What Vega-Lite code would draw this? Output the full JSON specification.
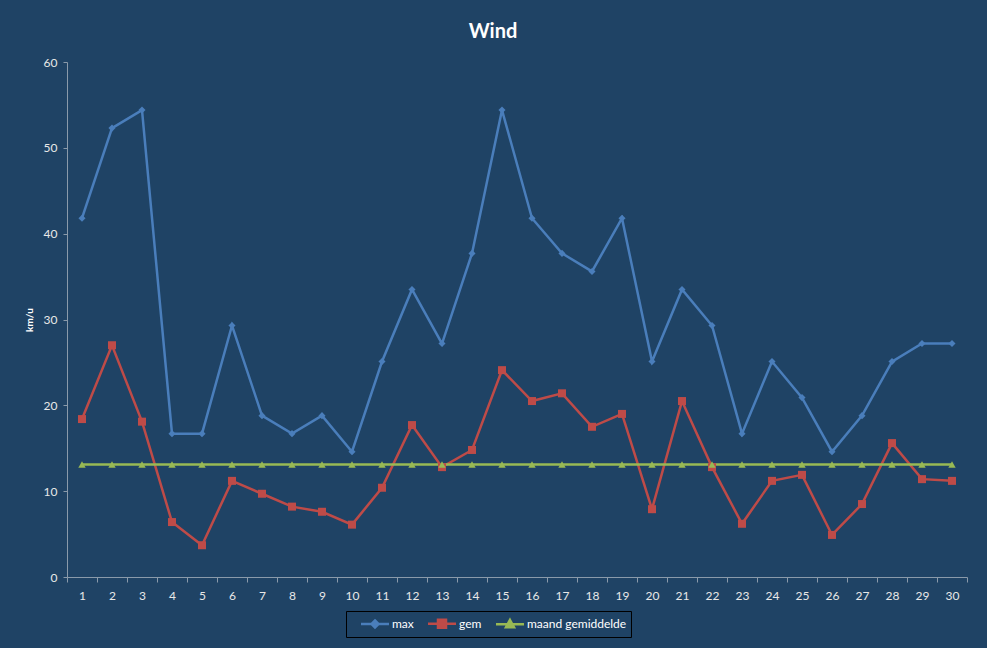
{
  "$schema": "https://vega.github.io/schema/vega-lite/v6.json",
  "width": 900,
  "height": 515,
  "autosize": {"type": "none"},
  "padding": {"left": 67, "top": 62, "right": 20, "bottom": 71},
  "background": "#1F4365",
  "title": {
    "text": "Wind",
    "font": "Lato",
    "fontSize": 20,
    "fontWeight": "bold",
    "color": "white",
    "anchor": "middle",
    "baseline": "alphabetic",
    "offset": 17,
    "dx": -24,
    "dy": 19
  },
  "config": {
    "view": {"stroke": null},
    "font": "Lato",
    "axis": {
      "grid": false,
      "domainColor": "#8A9AAA",
      "tickColor": "#8A9AAA",
      "labelColor": "#E8E8E8",
      "labelFont": "Lato",
      "labelFontSize": 12
    }
  },
  "data": {
    "values": [
      {"day": 1, "series": "max", "value": 41.8},
      {"day": 2, "series": "max", "value": 52.3},
      {"day": 3, "series": "max", "value": 54.4},
      {"day": 4, "series": "max", "value": 16.7},
      {"day": 5, "series": "max", "value": 16.7},
      {"day": 6, "series": "max", "value": 29.3},
      {"day": 7, "series": "max", "value": 18.8},
      {"day": 8, "series": "max", "value": 16.7},
      {"day": 9, "series": "max", "value": 18.8},
      {"day": 10, "series": "max", "value": 14.6},
      {"day": 11, "series": "max", "value": 25.1},
      {"day": 12, "series": "max", "value": 33.5},
      {"day": 13, "series": "max", "value": 27.2},
      {"day": 14, "series": "max", "value": 37.7},
      {"day": 15, "series": "max", "value": 54.4},
      {"day": 16, "series": "max", "value": 41.8},
      {"day": 17, "series": "max", "value": 37.7},
      {"day": 18, "series": "max", "value": 35.6},
      {"day": 19, "series": "max", "value": 41.8},
      {"day": 20, "series": "max", "value": 25.1},
      {"day": 21, "series": "max", "value": 33.5},
      {"day": 22, "series": "max", "value": 29.3},
      {"day": 23, "series": "max", "value": 16.7},
      {"day": 24, "series": "max", "value": 25.1},
      {"day": 25, "series": "max", "value": 20.9},
      {"day": 26, "series": "max", "value": 14.6},
      {"day": 27, "series": "max", "value": 18.8},
      {"day": 28, "series": "max", "value": 25.1},
      {"day": 29, "series": "max", "value": 27.2},
      {"day": 30, "series": "max", "value": 27.2},
      {"day": 1, "series": "gem", "value": 18.4},
      {"day": 2, "series": "gem", "value": 27.0},
      {"day": 3, "series": "gem", "value": 18.1},
      {"day": 4, "series": "gem", "value": 6.4},
      {"day": 5, "series": "gem", "value": 3.7},
      {"day": 6, "series": "gem", "value": 11.2},
      {"day": 7, "series": "gem", "value": 9.7},
      {"day": 8, "series": "gem", "value": 8.2},
      {"day": 9, "series": "gem", "value": 7.6},
      {"day": 10, "series": "gem", "value": 6.1},
      {"day": 11, "series": "gem", "value": 10.4},
      {"day": 12, "series": "gem", "value": 17.7},
      {"day": 13, "series": "gem", "value": 12.8},
      {"day": 14, "series": "gem", "value": 14.8},
      {"day": 15, "series": "gem", "value": 24.1},
      {"day": 16, "series": "gem", "value": 20.5},
      {"day": 17, "series": "gem", "value": 21.4},
      {"day": 18, "series": "gem", "value": 17.5},
      {"day": 19, "series": "gem", "value": 19.0},
      {"day": 20, "series": "gem", "value": 7.9},
      {"day": 21, "series": "gem", "value": 20.5},
      {"day": 22, "series": "gem", "value": 12.8},
      {"day": 23, "series": "gem", "value": 6.2},
      {"day": 24, "series": "gem", "value": 11.2},
      {"day": 25, "series": "gem", "value": 11.9},
      {"day": 26, "series": "gem", "value": 4.9},
      {"day": 27, "series": "gem", "value": 8.5},
      {"day": 28, "series": "gem", "value": 15.6},
      {"day": 29, "series": "gem", "value": 11.4},
      {"day": 30, "series": "gem", "value": 11.2},
      {"day": 1, "series": "maand gemiddelde", "value": 13.1},
      {"day": 2, "series": "maand gemiddelde", "value": 13.1},
      {"day": 3, "series": "maand gemiddelde", "value": 13.1},
      {"day": 4, "series": "maand gemiddelde", "value": 13.1},
      {"day": 5, "series": "maand gemiddelde", "value": 13.1},
      {"day": 6, "series": "maand gemiddelde", "value": 13.1},
      {"day": 7, "series": "maand gemiddelde", "value": 13.1},
      {"day": 8, "series": "maand gemiddelde", "value": 13.1},
      {"day": 9, "series": "maand gemiddelde", "value": 13.1},
      {"day": 10, "series": "maand gemiddelde", "value": 13.1},
      {"day": 11, "series": "maand gemiddelde", "value": 13.1},
      {"day": 12, "series": "maand gemiddelde", "value": 13.1},
      {"day": 13, "series": "maand gemiddelde", "value": 13.1},
      {"day": 14, "series": "maand gemiddelde", "value": 13.1},
      {"day": 15, "series": "maand gemiddelde", "value": 13.1},
      {"day": 16, "series": "maand gemiddelde", "value": 13.1},
      {"day": 17, "series": "maand gemiddelde", "value": 13.1},
      {"day": 18, "series": "maand gemiddelde", "value": 13.1},
      {"day": 19, "series": "maand gemiddelde", "value": 13.1},
      {"day": 20, "series": "maand gemiddelde", "value": 13.1},
      {"day": 21, "series": "maand gemiddelde", "value": 13.1},
      {"day": 22, "series": "maand gemiddelde", "value": 13.1},
      {"day": 23, "series": "maand gemiddelde", "value": 13.1},
      {"day": 24, "series": "maand gemiddelde", "value": 13.1},
      {"day": 25, "series": "maand gemiddelde", "value": 13.1},
      {"day": 26, "series": "maand gemiddelde", "value": 13.1},
      {"day": 27, "series": "maand gemiddelde", "value": 13.1},
      {"day": 28, "series": "maand gemiddelde", "value": 13.1},
      {"day": 29, "series": "maand gemiddelde", "value": 13.1},
      {"day": 30, "series": "maand gemiddelde", "value": 13.1}
    ]
  },
  "encoding": {
    "x": {
      "field": "day",
      "type": "ordinal",
      "scale": {"type": "band", "paddingInner": 0, "paddingOuter": 0},
      "axis": {
        "title": null,
        "labelAngle": 0,
        "tickBand": "extent",
        "tickSize": 5,
        "labelPadding": 8
      }
    },
    "y": {
      "field": "value",
      "type": "quantitative",
      "scale": {"domain": [0, 60], "nice": false},
      "axis": {
        "title": "km/u",
        "titleColor": "white",
        "titleFont": "Lato",
        "titleFontSize": 10,
        "titleFontWeight": "bold",
        "titlePadding": 9,
        "values": [0, 10, 20, 30, 40, 50, 60],
        "tickSize": 4,
        "labelPadding": 6
      }
    }
  },
  "layer": [
    {
      "mark": {"type": "line", "strokeWidth": 2.5},
      "encoding": {
        "color": {
          "field": "series",
          "type": "nominal",
          "scale": {
            "domain": ["max", "gem", "maand gemiddelde"],
            "range": ["#4A7EBB", "#BE4B48", "#98B954"]
          },
          "legend": {
            "title": null,
            "orient": "none",
            "direction": "horizontal",
            "legendX": 279,
            "legendY": 549,
            "strokeColor": "black",
            "padding": 4,
            "columnPadding": 3,
            "labelColor": "white",
            "labelFont": "Lato",
            "labelFontSize": 12,
            "labelOffset": 25,
            "symbolSize": 196,
            "symbolStrokeWidth": 2.5,
            "encode": {
              "symbols": {
                "update": {
                  "shape": {"signal": "datum.value == 'max' ? 'M0.357,0H4.357M2.357,-0.5L2.857,0L2.357,0.5L1.857,0Z' : datum.value == 'gem' ? 'M0.357,0H4.357M1.786,-0.57H2.929V0.57H1.786Z' : 'M0.357,0H4.357M2.357,-0.6L2.93,0.45H1.786Z'"},
                  "fill": {"signal": "scale('color', datum.value)"},
                  "fillOpacity": {"value": 1}
                }
              }
            }
          }
        }
      }
    },
    {
      "transform": [{"filter": "datum.series == 'max'"}],
      "mark": {"type": "point", "shape": "diamond", "filled": true, "opacity": 1, "size": 50, "color": "#4A7EBB"}
    },
    {
      "transform": [{"filter": "datum.series == 'gem'"}],
      "mark": {"type": "point", "shape": "square", "filled": true, "opacity": 1, "size": 64, "color": "#BE4B48"}
    },
    {
      "transform": [{"filter": "datum.series == 'maand gemiddelde'"}],
      "mark": {"type": "point", "shape": "triangle-up", "filled": true, "opacity": 1, "size": 55, "color": "#98B954"}
    }
  ]
}
